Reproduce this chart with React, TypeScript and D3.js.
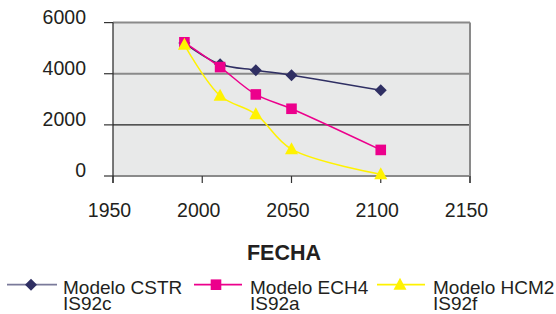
import React from "react";
import * as d3 from "d3";

const years = [1990, 2010, 2030, 2050, 2100];
const cstr = [5200, 4370, 4140, 3940, 3350];
const ech4 = [5230, 4260, 3190, 2630, 1020];
const hcm2 = [5130, 3140, 2420, 1050, 70];
const xTicks = [1950, 2000, 2050, 2100, 2150];
const yTicks = [0, 2000, 4000, 6000];
const seriesNames = [["Modelo CSTR", "IS92c"], ["Modelo ECH4", "IS92a"], ["Modelo HCM2", "IS92f"]];
const colors = ["#2f2f63", "#ec008c", "#fff200"];
const xTitle = "FECHA";

const W = 556, H = 314;
const L = 113, R = 470, T = 22.6, B = 176;

function Marker({ kind, x, y, color }: { kind: number; x: number; y: number; color: string }) {
  if (kind === 0) {
    const s = 6;
    return <path d={`M${x},${y - s}L${x + s},${y}L${x},${y + s}L${x - s},${y}Z`} fill={color} />;
  }
  if (kind === 1) {
    return <rect x={x - 5.3} y={y - 5.3} width={10.6} height={10.6} fill={color} />;
  }
  return <path d={`M${x},${y - 7}L${x + 6.5},${y + 5}L${x - 6.5},${y + 5}Z`} fill={color} />;
}

export default function App() {
  const x = d3.scaleLinear().domain([1950, 2150]).range([L, R]);
  const y = d3.scaleLinear().domain([0, 6000]).range([B, T]);
  const font = "'Liberation Sans', Arial, Helvetica, sans-serif";
  const data = [cstr, ech4, hcm2];
  const line = d3
    .line<[number, number]>()
    .x((d) => x(d[0]))
    .y((d) => y(d[1]))
    .curve(d3.curveCatmullRom.alpha(0.5));
  const legendX = [[7, 57, 31, 63], [194, 242, 216, 250], [377, 425, 400, 433]];
  return (
    <svg width={W} height={H} style={{ position: "absolute", left: 0, top: 0, background: "#fff" }} fontFamily={font}>
      <rect x={L} y={T} width={R - L} height={B - T} fill="#e8e9e9" />
      {yTicks.map((t) => {
        const dark = t === 2000;
        return (
          <line key={"g" + t} x1={L} x2={R} y1={y(t)} y2={y(t)} stroke={dark ? "#222" : "#8a8a8a"} strokeWidth={dark ? 1.2 : 2} />
        );
      })}
      <line x1={R} x2={R} y1={T} y2={B + 7} stroke="#8a8a8a" strokeWidth={2} />
      <line x1={L} x2={L} y1={T} y2={B + 7} stroke="#222" strokeWidth={1.2} />
      {yTicks.map((t) => (
        <line key={"yt" + t} x1={L - 9} x2={L} y1={y(t)} y2={y(t)} stroke="#333" strokeWidth={1.2} />
      ))}
      {xTicks.map((t) => (
        <line key={"xt" + t} x1={x(t)} x2={x(t)} y1={B} y2={B + 7} stroke="#333" strokeWidth={1.2} />
      ))}
      {yTicks.map((t) => (
        <text key={"yl" + t} x={86} y={y(t) + 1} fontSize={19.5} textAnchor="end" fill="#231f20">
          {t}
        </text>
      ))}
      {xTicks.map((t) => (
        <text key={"xl" + t} x={x(t) - 3.5} y={217.3} fontSize={19.5} textAnchor="middle" fill="#231f20">
          {t}
        </text>
      ))}
      <text x={284} y={259.8} fontSize={21.5} fontWeight="bold" textAnchor="middle" fill="#231f20">
        {xTitle}
      </text>
      {data.map((vals, i) => {
        const pts = years.map((yr, j) => [yr, vals[j]] as [number, number]);
        return (
          <g key={"s" + i}>
            <path d={line(pts) || ""} fill="none" stroke={colors[i]} strokeWidth={1.5} />
            {pts.map((p, j) => (
              <Marker key={j} kind={i} x={x(p[0])} y={y(p[1])} color={colors[i]} />
            ))}
          </g>
        );
      })}
      {seriesNames.map((nm, i) => {
        const [a, b, m, tx] = legendX[i];
        const ly = 284.7;
        return (
          <g key={"lg" + i}>
            <line x1={a} x2={b} y1={ly} y2={ly} stroke={i === 0 ? "#7a7a9a" : colors[i]} strokeWidth={1.8} />
            <Marker kind={i} x={m} y={ly} color={colors[i]} />
            <text x={tx} y={294} fontSize={19} fill="#231f20">
              <tspan x={tx} y={294}>{nm[0]}</tspan>
              <tspan x={tx} y={310}>{nm[1]}</tspan>
            </text>
          </g>
        );
      })}
    </svg>
  );
}
